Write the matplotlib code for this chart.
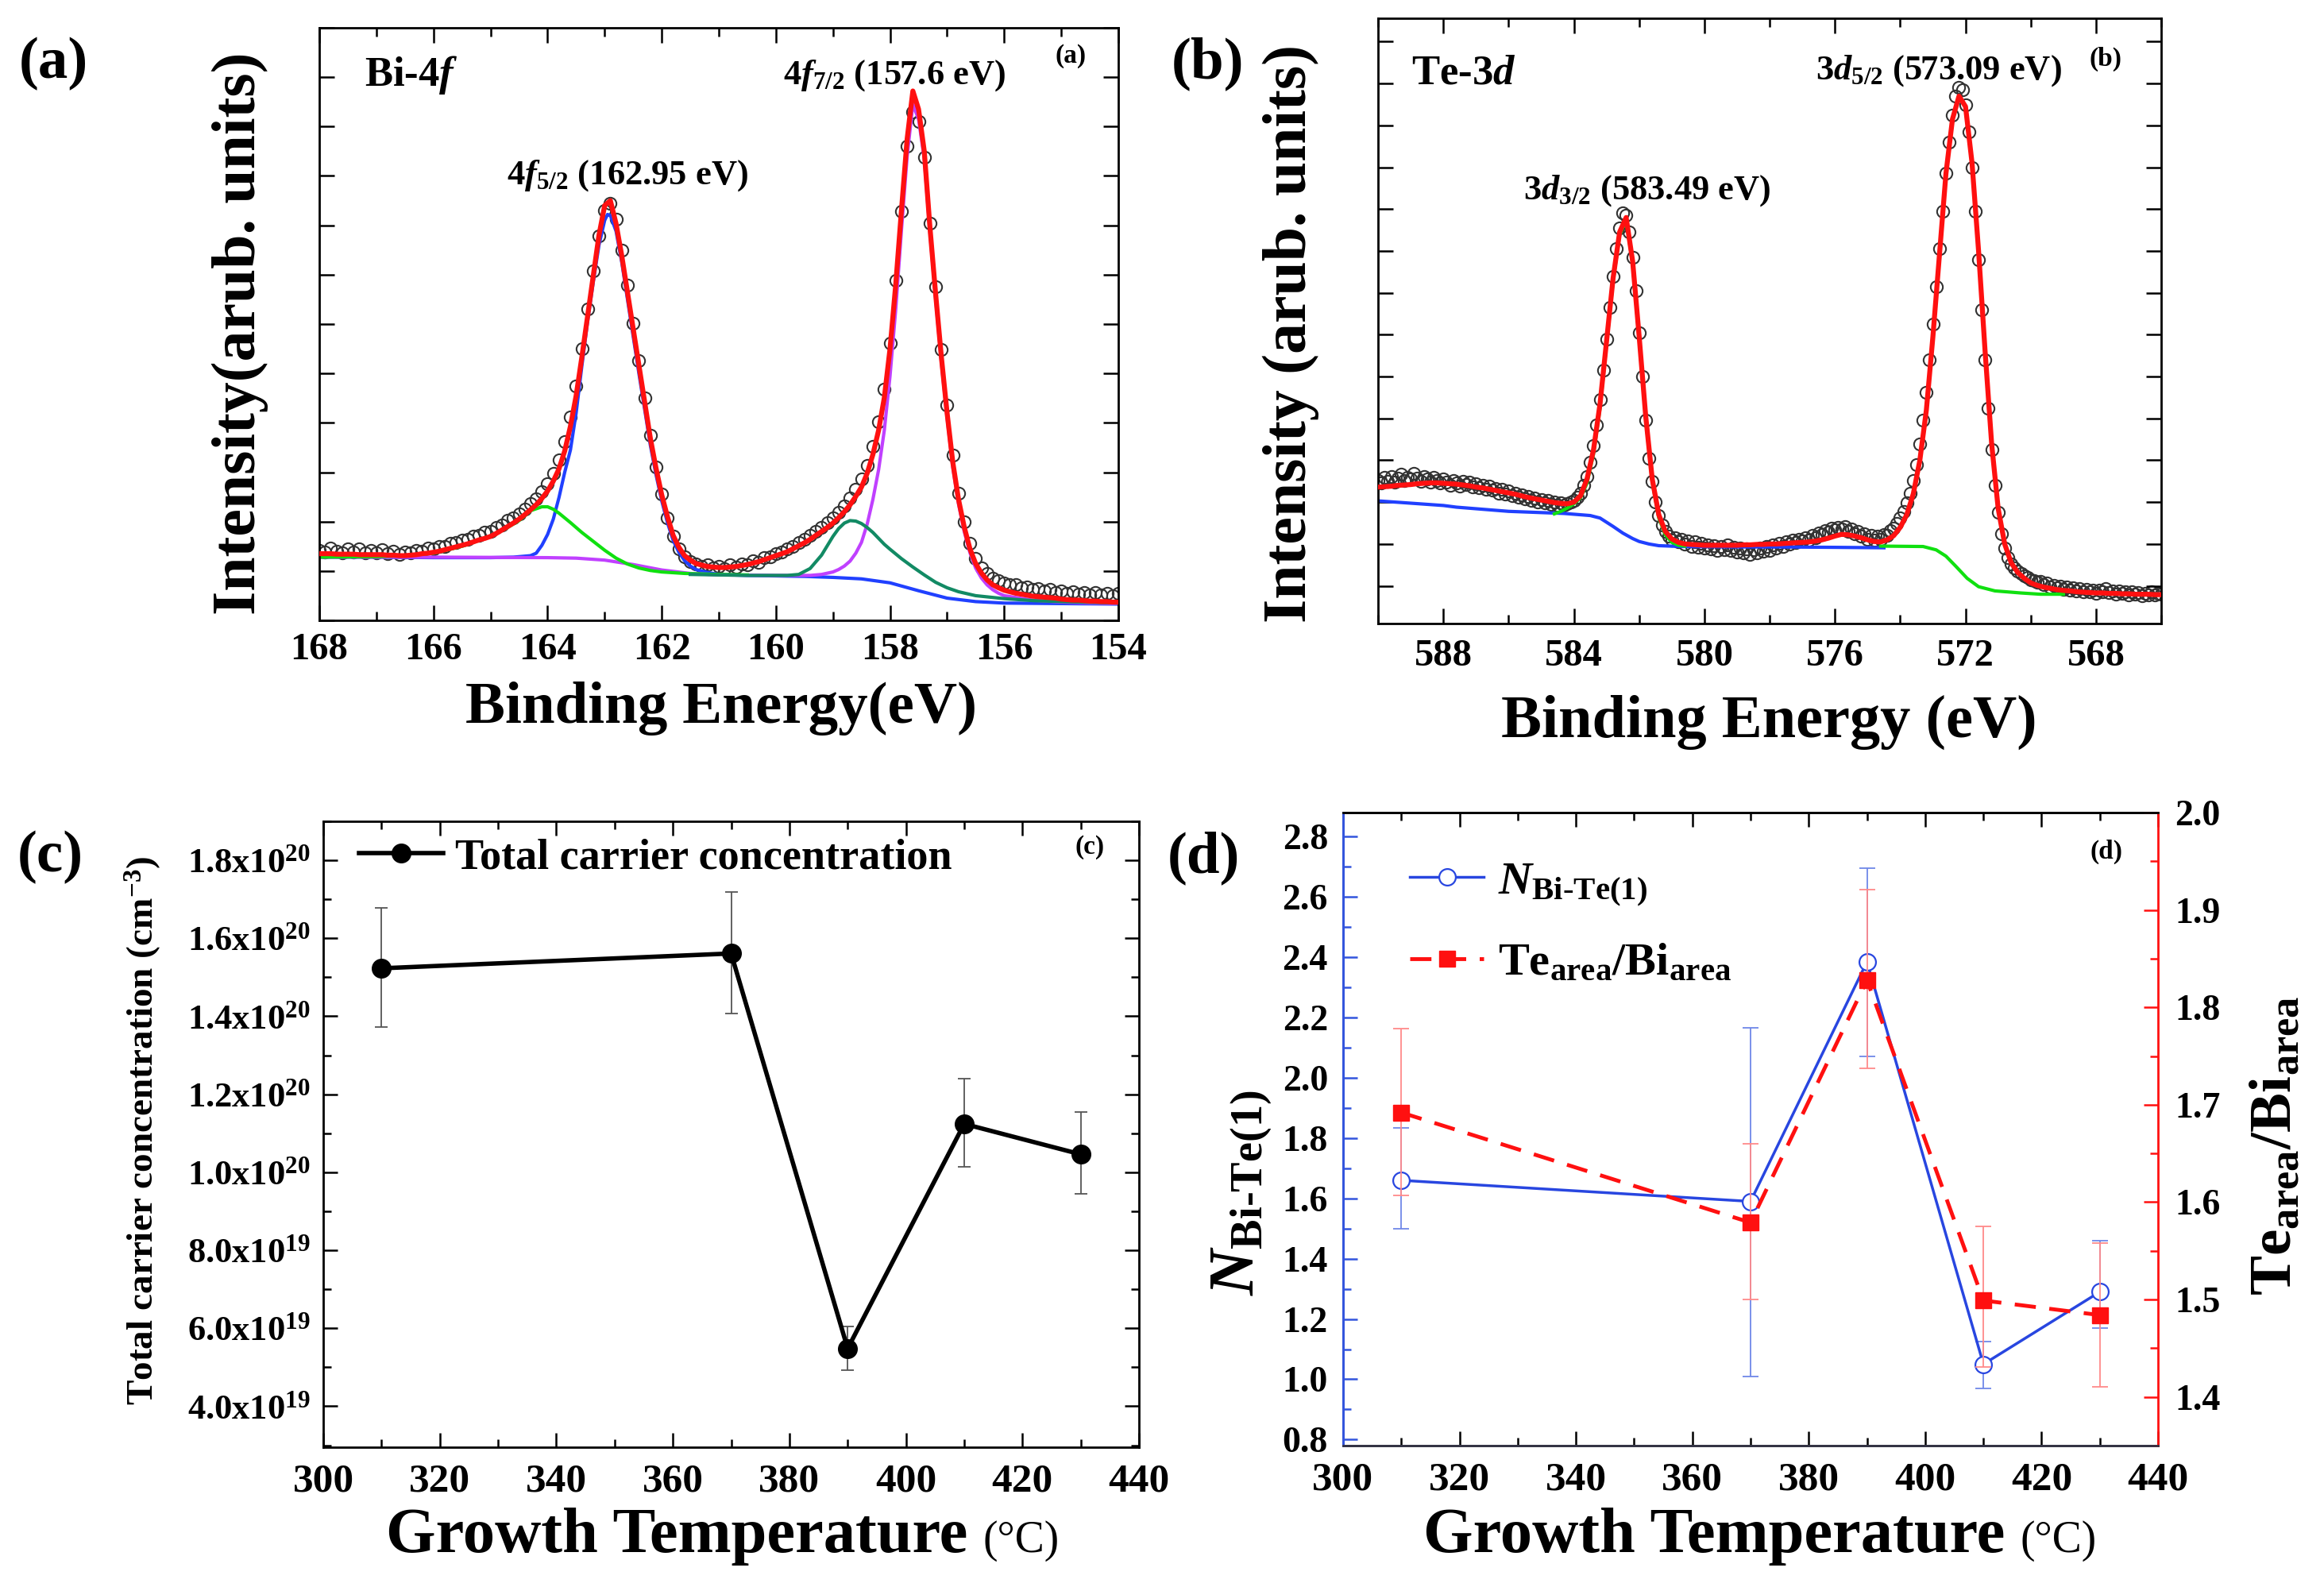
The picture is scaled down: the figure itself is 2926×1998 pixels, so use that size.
import numpy as np
import matplotlib
matplotlib.use("Agg")
import matplotlib.pyplot as plt
from matplotlib.ticker import MultipleLocator, FormatStrFormatter, FixedLocator, FixedFormatter

plt.rcParams['font.family'] = ['Liberation Serif', 'DejaVu Serif']
plt.rcParams['font.weight'] = 'bold'
plt.rcParams['axes.labelweight'] = 'bold'
plt.rcParams['mathtext.fontset'] = 'custom'
plt.rcParams['mathtext.rm'] = 'Liberation Serif:bold'
plt.rcParams['mathtext.it'] = 'Liberation Serif:italic:bold'
plt.rcParams['mathtext.bf'] = 'Liberation Serif:bold'
plt.rcParams['axes.linewidth'] = 2.0

# ---------------- (a) Bi-4f spectrum (0.1 eV steps, 168 -> 154) ----------------
energy_a = np.round(np.linspace(168.0, 154.0, 141), 2)
data_a = [1.42, 1.38, 1.46, 1.40, 1.36, 1.44, 1.38, 1.45, 1.37, 1.41,
          1.36, 1.43, 1.35, 1.40, 1.34, 1.39, 1.36, 1.42, 1.40, 1.46,
          1.44, 1.50, 1.50, 1.56, 1.58, 1.62, 1.64, 1.70, 1.72, 1.78,
          1.80, 1.88, 1.93, 2.02, 2.08, 2.16, 2.25, 2.36, 2.46, 2.60,
          2.76, 2.98, 3.25, 3.62, 4.12, 4.75, 5.50, 6.30, 7.08, 7.78,
          8.30, 8.45, 8.12, 7.50, 6.78, 6.02, 5.26, 4.50, 3.75, 3.10,
          2.55, 2.08, 1.70, 1.45, 1.28, 1.19, 1.14, 1.10, 1.12, 1.06,
          1.10, 1.05, 1.12, 1.08, 1.15, 1.12, 1.20, 1.18, 1.27, 1.28,
          1.35, 1.38, 1.44, 1.50, 1.57, 1.64, 1.72, 1.80, 1.89, 1.98,
          2.08, 2.19, 2.32, 2.47, 2.65, 2.86, 3.14, 3.52, 4.02, 4.68,
          5.62, 6.88, 8.28, 9.60, 10.30, 10.10, 9.38, 8.05, 6.75, 5.48,
          4.36, 3.35, 2.58, 2.00, 1.56, 1.26, 1.06, 0.95, 0.86, 0.80,
          0.76, 0.72, 0.72, 0.66, 0.68, 0.62, 0.65, 0.60, 0.62, 0.57,
          0.60, 0.55, 0.58, 0.53, 0.57, 0.52, 0.56, 0.51, 0.55, 0.50,
          0.54]
fit_a = [1.35, 1.35, 1.35, 1.34, 1.34, 1.34, 1.34, 1.33, 1.33, 1.33,
         1.33, 1.33, 1.32, 1.32, 1.31, 1.31, 1.32, 1.33, 1.35, 1.36,
         1.38, 1.40, 1.43, 1.46, 1.49, 1.52, 1.55, 1.59, 1.63, 1.66,
         1.70, 1.76, 1.83, 1.90, 1.97, 2.05, 2.14, 2.24, 2.34, 2.47,
         2.62, 2.82, 3.07, 3.43, 3.93, 4.55, 5.33, 6.15, 6.97, 7.80,
         8.40, 8.50, 8.03, 7.38, 6.64, 5.90, 5.16, 4.42, 3.69, 3.08,
         2.54, 2.10, 1.72, 1.48, 1.31, 1.22, 1.15, 1.12, 1.09, 1.08,
         1.07, 1.07, 1.08, 1.09, 1.11, 1.13, 1.16, 1.19, 1.23, 1.27,
         1.31, 1.35, 1.39, 1.45, 1.51, 1.57, 1.64, 1.72, 1.80, 1.88,
         1.97, 2.08, 2.20, 2.34, 2.51, 2.70, 2.98, 3.36, 3.85, 4.51,
         5.50, 6.80, 8.30, 9.75, 10.72, 10.35, 9.50, 7.95, 6.60, 5.33,
         4.20, 3.20, 2.45, 1.89, 1.45, 1.15, 0.96, 0.82, 0.72, 0.66,
         0.61, 0.58, 0.55, 0.53, 0.51, 0.49, 0.48, 0.47, 0.46, 0.45,
         0.43, 0.42, 0.41, 0.41, 0.40, 0.39, 0.39, 0.38, 0.38, 0.37,
         0.37]
blue_a_E = [168.0, 167.0, 166.0, 165.0, 164.6, 164.4, 164.3, 164.2, 164.1, 164.0,
            163.9, 163.8, 163.7, 163.6, 163.5, 163.4, 163.3, 163.2, 163.1, 163.0,
            162.95, 162.9, 162.8, 162.7, 162.6, 162.5, 162.4, 162.3, 162.2, 162.1,
            162.0, 161.9, 161.8, 161.7, 161.6, 161.5, 161.4, 161.2, 161.0, 160.5,
            160.0, 159.5, 159.0, 158.5, 158.0, 157.5, 157.0, 156.5, 156.0, 155.0, 154.0]
blue_a_I = [1.28, 1.28, 1.27, 1.27, 1.28, 1.30, 1.31, 1.36, 1.52, 1.74,
            2.05, 2.49, 3.00, 3.45, 4.20, 5.15, 6.05, 6.85, 7.60, 8.10,
            8.22, 8.20, 7.88, 7.25, 6.50, 5.75, 5.00, 4.28, 3.55, 2.95,
            2.42, 1.98, 1.62, 1.38, 1.21, 1.10, 1.03, 0.97, 0.93, 0.91,
            0.90, 0.89, 0.87, 0.84, 0.76, 0.60, 0.45, 0.38, 0.35, 0.34, 0.33]
green1_a_E = [168.0, 167.0, 166.5, 166.0, 165.5, 165.0, 164.7, 164.5, 164.3, 164.1,
              164.0, 163.9, 163.8, 163.6, 163.4, 163.2, 163.0, 162.8, 162.6, 162.4,
              162.2, 162.0, 161.6, 161.0, 160.5]
green1_a_I = [1.28, 1.29, 1.31, 1.36, 1.50, 1.70, 1.88, 2.02, 2.22, 2.30,
              2.30, 2.25, 2.17, 1.98, 1.78, 1.60, 1.42, 1.26, 1.14, 1.06,
              1.01, 0.98, 0.95, 0.93, 0.92]
green2_a_E = [161.5, 160.5, 159.8, 159.6, 159.4, 159.2, 159.0, 158.9, 158.8, 158.7,
              158.6, 158.5, 158.4, 158.3, 158.2, 158.1, 158.0, 157.8, 157.6, 157.4,
              157.2, 157.0, 156.8, 156.5, 156.0, 155.5, 155.0, 154.0]
green2_a_I = [0.93, 0.91, 0.91, 0.93, 1.05, 1.32, 1.70, 1.86, 1.97, 2.02,
              2.01, 1.96, 1.88, 1.78, 1.66, 1.54, 1.44, 1.25, 1.08, 0.92,
              0.77, 0.66, 0.58, 0.50, 0.44, 0.40, 0.38, 0.35]
magenta_a_E = [168.0, 166.0, 164.0, 163.5, 163.0, 162.5, 162.0, 161.5, 161.0, 160.0,
               159.4, 159.2, 159.0, 158.9, 158.8, 158.7, 158.6, 158.5, 158.4, 158.3,
               158.2, 158.1, 158.0, 157.9, 157.8, 157.7, 157.6, 157.5, 157.4, 157.3,
               157.2, 157.1, 157.0, 156.9, 156.8, 156.7, 156.6, 156.5, 156.4, 156.3,
               156.2, 156.1, 156.0, 155.5, 155.0, 154.5, 154.0]
magenta_a_I = [1.28, 1.28, 1.27, 1.26, 1.22, 1.13, 1.02, 0.95, 0.92, 0.91,
               0.91, 0.93, 0.98, 1.03, 1.10, 1.20, 1.36, 1.58, 1.95, 2.45,
               3.05, 3.85, 4.95, 6.30, 7.90, 9.40, 10.45, 10.15, 9.35, 7.85,
               6.50, 5.22, 4.10, 3.10, 2.36, 1.80, 1.37, 1.06, 0.86, 0.72,
               0.62, 0.55, 0.50, 0.41, 0.37, 0.35, 0.34]

# ---------------- (b) Te-3d spectrum ----------------
energy_b = np.round(np.linspace(590.0, 566.0, 241), 2)   # data, 0.1 eV steps
data_b = [3.52, 3.45, 3.60, 3.50, 3.62, 3.48, 3.58, 3.66, 3.52, 3.60,
          3.55, 3.68, 3.58, 3.50, 3.62, 3.55, 3.48, 3.60, 3.52, 3.45,
          3.56, 3.48, 3.40, 3.52, 3.45, 3.38, 3.50, 3.42, 3.47, 3.36,
          3.44, 3.35, 3.40, 3.30, 3.38, 3.28, 3.33, 3.22, 3.30, 3.20,
          3.26, 3.15, 3.22, 3.12, 3.18, 3.08, 3.14, 3.05, 3.10, 3.00,
          3.06, 2.98, 3.04, 2.95, 3.00, 2.93, 2.98, 2.92, 2.97, 3.00,
          3.05, 3.12, 3.22, 3.40, 3.62, 3.95, 4.35, 4.85, 5.45, 6.15,
          6.90, 7.65, 8.40, 9.05, 9.55, 9.92, 9.85, 9.45, 8.85, 8.05,
          7.05, 6.00, 4.95, 4.05, 3.50, 3.00, 2.68, 2.45, 2.30, 2.18,
          2.10, 2.15, 2.05, 2.12, 2.00, 2.08, 1.95, 2.05, 1.92, 2.02,
          1.90, 1.98, 1.88, 1.96, 1.85, 1.95, 1.86, 1.97, 1.84, 1.92,
          1.80, 1.90, 1.78, 1.88, 1.75, 1.86, 1.78, 1.90, 1.82, 1.95,
          1.85, 1.98, 1.90, 2.02, 1.95, 2.05, 2.00, 2.10, 2.04, 2.12,
          2.08, 2.15, 2.10, 2.20, 2.15, 2.26, 2.22, 2.32, 2.28, 2.38,
          2.33, 2.40, 2.35, 2.42, 2.30, 2.36, 2.25, 2.30, 2.18, 2.25,
          2.12, 2.20, 2.10, 2.18, 2.12, 2.22, 2.20, 2.32, 2.38, 2.50,
          2.62, 2.78, 2.98, 3.22, 3.52, 3.90, 4.38, 4.95, 5.62, 6.40,
          7.25, 8.15, 9.05, 9.95, 10.85, 11.60, 12.25, 12.70, 12.90, 12.85,
          12.50, 11.85, 11.00, 9.95, 8.80, 7.60, 6.40, 5.25, 4.25, 3.40,
          2.75, 2.25, 1.90, 1.68, 1.52, 1.42, 1.35, 1.30, 1.24, 1.20,
          1.15, 1.12, 1.08, 1.10, 1.03, 1.06, 0.98, 1.02, 0.95, 0.99,
          0.92, 0.97, 0.90, 0.95, 0.88, 0.94, 0.86, 0.92, 0.85, 0.90,
          0.82, 0.90, 0.85, 0.93, 0.84, 0.88, 0.80, 0.87, 0.82, 0.86,
          0.78, 0.85, 0.80, 0.84, 0.77, 0.83, 0.79, 0.85, 0.78, 0.82,
          0.80]
fit_energy_b = np.round(np.linspace(590.0, 566.0, 121), 2)   # fit, 0.2 eV steps
fit_b = [3.36, 3.37, 3.38, 3.40, 3.41, 3.42, 3.44, 3.45, 3.46, 3.46,
         3.45, 3.44, 3.43, 3.41, 3.39, 3.36, 3.34, 3.31, 3.28, 3.25,
         3.22, 3.19, 3.15, 3.11, 3.08, 3.05, 3.02, 2.99, 2.97, 2.96,
         3.00, 3.15, 3.55, 4.25, 5.35, 6.85, 8.35, 9.45, 9.80, 8.75,
         6.95, 5.05, 3.55, 2.70, 2.30, 2.12, 2.04, 2.00, 1.99, 1.98,
         1.97, 1.97, 1.97, 1.97, 1.97, 1.97, 1.98, 1.98, 1.99, 1.99,
         2.00, 2.00, 2.01, 2.02, 2.03, 2.04, 2.05, 2.07, 2.10, 2.14,
         2.19, 2.23, 2.22, 2.19, 2.15, 2.10, 2.06, 2.05, 2.10, 2.20,
         2.40, 2.70, 3.20, 4.00, 5.20, 6.95, 8.90, 10.85, 12.15, 12.70,
         12.45, 11.10, 9.00, 6.60, 4.40, 2.85, 2.00, 1.55, 1.32, 1.18,
         1.07, 1.01, 0.97, 0.94, 0.91, 0.89, 0.88, 0.86, 0.85, 0.84,
         0.83, 0.83, 0.82, 0.82, 0.81, 0.81, 0.80, 0.80, 0.80, 0.79,
         0.79]
blue_b_E = [590.0, 588.0, 587.6, 586.0, 584.3, 583.5, 583.2, 583.0, 582.8, 582.5,
            582.2, 582.0, 581.7, 581.4, 580.7, 579.0, 577.8, 576.0, 574.5]
blue_b_I = [3.03, 2.92, 2.88, 2.78, 2.73, 2.68, 2.62, 2.52, 2.42, 2.26,
            2.13, 2.06, 2.00, 1.96, 1.94, 1.93, 1.93, 1.92, 1.91]
green1_b_E = [584.6, 584.4, 584.2, 584.0, 583.8, 583.6, 583.4, 583.2, 583.0, 582.8,
              582.6, 582.4, 582.2, 582.0, 581.8, 581.6, 581.4, 581.2, 581.0, 580.8, 580.6]
green1_b_I = [2.72, 2.78, 2.86, 2.96, 3.10, 3.45, 4.15, 5.25, 6.78, 8.28,
              9.38, 9.74, 8.68, 6.88, 4.98, 3.48, 2.62, 2.22, 2.04, 1.97, 1.95]
green2_b_E = [574.6, 573.3, 572.9, 572.6, 572.3, 571.95, 571.6, 571.1, 570.3, 569.7, 569.0]
green2_b_I = [1.95, 1.94, 1.86, 1.71, 1.47, 1.18, 0.98, 0.88, 0.83, 0.80, 0.80]

# ---------------- (c) carrier concentration ----------------
temps = [310, 370, 390, 410, 430]
conc = [1.523e20, 1.561e20, 5.48e19, 1.124e20, 1.046e20]
conc_low = [1.373e20, 1.407e20, 4.92e19, 1.014e20, 0.944e20]
conc_high = [1.678e20, 1.718e20, 6.04e19, 1.239e20, 1.154e20]
conc_ticks = [4e19, 6e19, 8e19, 1.0e20, 1.2e20, 1.4e20, 1.6e20, 1.8e20]
conc_ticklabels = [r'4.0x10$^{19}$', r'6.0x10$^{19}$', r'8.0x10$^{19}$', r'1.0x10$^{20}$',
                   r'1.2x10$^{20}$', r'1.4x10$^{20}$', r'1.6x10$^{20}$', r'1.8x10$^{20}$']

# ---------------- (d) N_Bi-Te(1) and Te/Bi area ratio ----------------
n_bite = [1.66, 1.59, 2.385, 1.05, 1.29]
n_low = [1.50, 1.01, 2.07, 0.97, 1.17]
n_high = [1.835, 2.165, 2.695, 1.125, 1.46]
ratio = [1.692, 1.579, 1.828, 1.499, 1.484]
ratio_low = [1.607, 1.50, 1.737, 1.431, 1.41]
ratio_high = [1.778, 1.66, 1.921, 1.575, 1.558]

fig = plt.figure(figsize=(29.26, 19.98), dpi=100)
ax_a = fig.add_axes([0.1374, 0.6091, 0.3438, 0.3734])
ax_b = fig.add_axes([0.5930, 0.6071, 0.3370, 0.3814])
ax_c = fig.add_axes([0.1391, 0.0881, 0.3510, 0.3944])
ax_d = fig.add_axes([0.5779, 0.0891, 0.3507, 0.3989])

RED = '#ff1010'
BLUE = '#2040ff'
GREEN = '#10e010'
TEAL = '#128a64'
MAGENTA = '#c040ff'

# ---- (a) ----
ax_a.plot(energy_a, data_a, 'o', ms=11, mfc='none', mec='#333333', mew=1.5, zorder=1)
ax_a.plot(blue_a_E, blue_a_I, color=BLUE, lw=3, zorder=2)
ax_a.plot(magenta_a_E, magenta_a_I, color=MAGENTA, lw=3, zorder=2)
ax_a.plot(green1_a_E, green1_a_I, color=GREEN, lw=3, zorder=2)
ax_a.plot(green2_a_E, green2_a_I, color=TEAL, lw=3, zorder=2)
ax_a.plot(energy_a, fit_a, color=RED, lw=4.5, zorder=3)
ax_a.set_xlim(168, 154)
ax_a.set_ylim(0, 12)
ax_a.xaxis.set_major_locator(MultipleLocator(2))
ax_a.xaxis.set_minor_locator(MultipleLocator(1))
ax_a.yaxis.set_major_locator(MultipleLocator(1))
ax_a.tick_params(which='both', direction='in', top=True, right=True, width=1.8)
ax_a.tick_params(which='major', length=14)
ax_a.tick_params(which='minor', length=8)
ax_a.tick_params(axis='x', labelsize=35, pad=11)
ax_a.tick_params(axis='y', labelleft=False)
ax_a.set_xlabel('Binding Energy(eV)', fontsize=54, va='center')
ax_a.xaxis.set_label_coords(0.503, -0.149)
ax_a.set_ylabel('Intensity(arub. units)', fontsize=56, va='center')
ax_a.yaxis.set_label_coords(-0.0994, 0.484)
ax_a.text(0.0567, 0.9196, r'Bi-4$\mathit{f}$', transform=ax_a.transAxes, fontsize=38, va='center')
ax_a.text(0.5805, 0.905, r'4$\mathit{f}_{\mathrm{7/2}}$ (157.6 eV)', transform=ax_a.transAxes,
          fontsize=32, va='baseline')
ax_a.text(0.2346, 0.736, r'4$\mathit{f}_{\mathrm{5/2}}$ (162.95 eV)', transform=ax_a.transAxes,
          fontsize=32, va='baseline')
ax_a.text(0.940, 0.952, '(a)', transform=ax_a.transAxes, fontsize=24, ha='center', va='center')

# ---- (b) ----
ax_b.plot(energy_b, data_b, 'o', ms=11, mfc='none', mec='#333333', mew=1.5, zorder=1)
ax_b.plot(blue_b_E, blue_b_I, color=BLUE, lw=3, zorder=2)
ax_b.plot(green1_b_E, green1_b_I, color=GREEN, lw=3, zorder=2)
ax_b.plot(green2_b_E, green2_b_I, color=GREEN, lw=3, zorder=2)
ax_b.plot(fit_energy_b, fit_b, color=RED, lw=4.5, zorder=3)
ax_b.set_xlim(590, 566)
ax_b.set_ylim(0.1, 14.56)
ax_b.xaxis.set_major_locator(MultipleLocator(4))
ax_b.xaxis.set_minor_locator(MultipleLocator(2))
ax_b.yaxis.set_major_locator(MultipleLocator(1))
ax_b.tick_params(which='both', direction='in', top=True, right=True, width=1.8)
ax_b.tick_params(which='major', length=14)
ax_b.tick_params(which='minor', length=8)
ax_b.tick_params(axis='x', labelsize=35, pad=14)
ax_b.tick_params(axis='y', labelleft=False)
ax_b.set_xlabel('Binding Energy (eV)', fontsize=55, va='center')
ax_b.xaxis.set_label_coords(0.499, -0.163)
ax_b.set_ylabel('Intensity (arub. units)', fontsize=56, va='center')
ax_b.yaxis.set_label_coords(-0.1116, 0.479)
ax_b.text(0.0426, 0.909, r'Te-3$\mathit{d}$', transform=ax_b.transAxes, fontsize=38, va='center')
ax_b.text(0.559, 0.899, r'3$\mathit{d}_{\mathrm{5/2}}$ (573.09 eV)', transform=ax_b.transAxes,
          fontsize=32, va='baseline')
ax_b.text(0.1856, 0.702, r'3$\mathit{d}_{\mathrm{3/2}}$ (583.49 eV)', transform=ax_b.transAxes,
          fontsize=32, va='baseline')
ax_b.text(0.929, 0.933, '(b)', transform=ax_b.transAxes, fontsize=24, ha='center', va='center')

# ---- (c) ----
conc_err = [np.subtract(conc, conc_low), np.subtract(conc_high, conc)]
ax_c.errorbar(temps, conc, yerr=conc_err, fmt='none', ecolor='#555555', elinewidth=1.3,
              capsize=6, capthick=1.3, zorder=2)
ax_c.plot(temps, conc, '-o', color='black', lw=4, ms=17, zorder=3,
          label='Total carrier concentration')
ax_c.set_xlim(300, 440)
ax_c.set_ylim(2.95e19, 1.9e20)
ax_c.xaxis.set_major_locator(MultipleLocator(20))
ax_c.xaxis.set_minor_locator(MultipleLocator(10))
ax_c.yaxis.set_major_locator(FixedLocator(conc_ticks))
ax_c.yaxis.set_major_formatter(FixedFormatter(conc_ticklabels))
ax_c.yaxis.set_minor_locator(MultipleLocator(1e19))
ax_c.tick_params(which='both', direction='in', top=True, right=True, width=1.8)
ax_c.tick_params(which='major', length=13)
ax_c.tick_params(which='minor', length=7)
ax_c.tick_params(axis='x', labelsize=37, pad=15)
ax_c.tick_params(axis='y', labelsize=32, pad=12)
ax_c.set_xlabel('Growth Temperature', fontsize=58, va='center')
ax_c.xaxis.set_label_coords(0.433, -0.143)
ax_c.annotate('(\u00b0C)', xy=(1, 0.5), xycoords=ax_c.xaxis.label, xytext=(14, -4),
              textcoords='offset points', fontsize=40, fontweight='normal', va='center')
ax_c.set_ylabel(r'Total carrier concentration (cm$^{-3}$)', fontsize=34, va='center')
ax_c.yaxis.set_label_coords(-0.221, 0.506)
ax_c.legend(loc='upper left', bbox_to_anchor=(0.0438, 0.973), frameon=False, borderpad=0,
            borderaxespad=0, handlelength=1.95, handletextpad=0.28,
            prop={'size': 39, 'weight': 'bold'})
ax_c.text(0.940, 0.959, '(c)', transform=ax_c.transAxes, fontsize=24, ha='center', va='center')

# ---- (d) ----
ax_d2 = ax_d.twinx()
n_err = [np.subtract(n_bite, n_low), np.subtract(n_high, n_bite)]
r_err = [np.subtract(ratio, ratio_low), np.subtract(ratio_high, ratio)]
ax_d.errorbar(temps, n_bite, yerr=n_err, fmt='none', ecolor='#7088e8', elinewidth=1.3,
              capsize=7, capthick=1.3, zorder=2)
line_n, = ax_d.plot(temps, n_bite, '-o', color='#2846e0', lw=2.5, ms=15, mfc='white',
                    mec='#2846e0', mew=1.6, zorder=3, label=r'$\mathit{N}_{\mathrm{Bi\text{-}Te(1)}}$')
ax_d2.errorbar(temps, ratio, yerr=r_err, fmt='none', ecolor='#ff8a8a', elinewidth=1.3,
               capsize=7, capthick=1.3, zorder=2)
line_r, = ax_d2.plot(temps, ratio, color=RED, ls=(0, (5.5, 3.5)), lw=3.5, marker='s', ms=14,
                     mfc=RED, mec=RED, zorder=3, label=r'Te$_{\mathrm{area}}$/Bi$_{\mathrm{area}}$')
ax_d.set_xlim(300, 440)
ax_d.set_ylim(0.78, 2.88)
ax_d2.set_ylim(1.35, 2.0)
ax_d.xaxis.set_major_locator(MultipleLocator(20))
ax_d.xaxis.set_minor_locator(MultipleLocator(10))
ax_d.yaxis.set_major_locator(MultipleLocator(0.2))
ax_d.yaxis.set_minor_locator(MultipleLocator(0.1))
ax_d.yaxis.set_major_formatter(FormatStrFormatter('%.1f'))
ax_d2.yaxis.set_major_locator(MultipleLocator(0.1))
ax_d2.yaxis.set_minor_locator(MultipleLocator(0.05))
ax_d2.yaxis.set_major_formatter(FormatStrFormatter('%.1f'))
ax_d.tick_params(axis='x', which='both', direction='in', top=True, width=1.8, labelsize=37, pad=15)
ax_d.tick_params(axis='y', which='both', direction='in', colors='#3355dd', labelcolor='black',
                 width=1.8, labelsize=33, pad=13.7)
ax_d.tick_params(which='major', length=13)
ax_d.tick_params(which='minor', length=7)
ax_d2.tick_params(axis='y', which='both', direction='in', colors=RED, labelcolor='black',
                  width=1.8, labelsize=33, pad=15)
ax_d2.tick_params(which='major', length=13)
ax_d2.tick_params(which='minor', length=7)
ax_d.spines['left'].set_color('#3355dd')
ax_d2.spines['left'].set_color('#3355dd')
ax_d.spines['right'].set_visible(False)
ax_d2.spines['right'].set_color(RED)
ax_d.spines['bottom'].set_color('#333344')
ax_d2.spines['bottom'].set_color('#333344')
ax_d.set_xlabel('Growth Temperature', fontsize=58, va='center')
ax_d.xaxis.set_label_coords(0.455, -0.144)
ax_d.annotate('(\u00b0C)', xy=(1, 0.5), xycoords=ax_d.xaxis.label, xytext=(14, -4),
              textcoords='offset points', fontsize=40, fontweight='normal', va='center')
ax_d.set_ylabel(r'$\mathit{N}_{\mathrm{Bi\text{-}Te(1)}}$', fontsize=58, va='center')
ax_d.yaxis.set_label_coords(-0.125, 0.40)
ax_d2.set_ylabel(r'Te$_{\mathrm{area}}$/Bi$_{\mathrm{area}}$', fontsize=54, va='center', rotation=90)
ax_d2.yaxis.set_label_coords(1.145, 0.474)
ax_d2.legend(handles=[line_n, line_r], loc='upper left', bbox_to_anchor=(0.082, 0.924),
             frameon=False, borderpad=0, borderaxespad=0, handlelength=1.6,
             handletextpad=0.3, labelspacing=0.75, prop={'size': 42, 'weight': 'bold'})
ax_d2.text(0.937, 0.938, '(d)', transform=ax_d2.transAxes, fontsize=24, ha='center', va='center')

# panel letters
for x, y, s in [(0.0229, 0.960, '(a)'), (0.5198, 0.960, '(b)'),
                (0.0215, 0.460, '(c)'), (0.5178, 0.4595, '(d)')]:
    fig.text(x, y, s, fontsize=54, ha='center', va='center')

fig.savefig('out.png', dpi=100)
